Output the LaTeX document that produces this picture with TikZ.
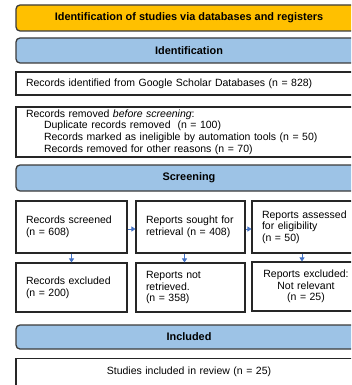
\documentclass[tikz,border=0pt]{standalone}
\usepackage{fontspec}
\setmainfont{Liberation Sans}
\usetikzlibrary{arrows.meta}

\definecolor{stagegold}{HTML}{FFC000}
\definecolor{stageblue}{HTML}{9DC3E6}
\definecolor{stageedge}{HTML}{3B3B3B}
\definecolor{flowblue}{HTML}{4472C4}

\tikzset{
	stage/.style={draw=stageedge, fill=stageblue, rounded corners=4pt, line width=1.3pt,
		minimum width=346pt, font=\fontsize{10.9}{12}\selectfont\bfseries},
	record/.style={draw=black!85, line width=1.1pt, inner xsep=10pt, inner ysep=0pt,
		align=left, font=\fontsize{10.5}{11.7}\selectfont},
	flow/.style={draw=flowblue, line width=0.8pt, -{Triangle[length=4pt,width=5pt]}},
}

\begin{document}
\begin{tikzpicture}[x=1pt, y=-1pt]
		\useasboundingbox (0,0) rectangle (351,385);
		\clip (0,0) rectangle (351,385);
		
		% Stage headers
		\node[stage, fill=stagegold, minimum height=26pt] (title) at (189,18) {Identification of studies via databases and registers};
		\node[stage, minimum height=25pt] (ident) at (189,50.5) {Identification};
		\node[stage, minimum height=26pt] (screen) at (189,178) {Screening};
		\node[stage, minimum height=24pt] (incl) at (189,337) {Included};
		
		% Identification boxes
		\node[record, text width=326pt, minimum height=23pt] (found) at (189,83.5)
			{Records identified from Google Scholar Databases (n = 828)};
		\node[record, text width=326pt, minimum height=50pt] (removed) at (189,132)
			{Records removed \textit{before screening}:\\
			\hspace*{18pt}Duplicate records removed\ \ (n = 100)\\
			\hspace*{18pt}Records marked as ineligible by automation tools (n = 50)\\
			\hspace*{18pt}Records removed for other reasons (n = 70)};
		
		% Screening, top row
		\node[record, text width=91pt, minimum height=52pt] (scr1) at (71.5,227) {Records screened\\(n = 608)};
		\node[record, text width=89pt, minimum height=52pt] (scr2) at (190.5,227) {Reports sought for\\retrieval (n = 408)};
		\node[record, text width=88pt, minimum height=52pt] (scr3) at (306,227) {Reports assessed\\for eligibility\\(n = 50)};
		
		% Screening, excluded row
		\node[record, text width=91pt, minimum height=49pt] (exc1) at (71.5,287.5) {Records excluded\\(n = 200)};
		\node[record, text width=89pt, minimum height=49pt] (exc2) at (190.5,287.5) {Reports not\\retrieved.\\(n = 358)};
		\node[record, text width=88pt, minimum height=49pt, align=center] (exc3) at (306,286.5) {Reports excluded:\\Not relevant\\(n = 25)};
		
		% Included study count
		\node[record, text width=326pt, align=center, anchor=north, inner ysep=8pt,
			text height=8pt, text depth=30pt] (studies) at (189,358)
			{Studies included in review (n = 25)};
		
		% connections
		\draw[flow] ([yshift=-2pt]scr1.east) -- ([yshift=-2pt]scr2.west);
		\draw[flow] ([yshift=-2pt]scr2.east) -- ([yshift=-2pt]scr3.west);
		
		\draw[flow] (scr1.south) -- (exc1.north);
		\draw[flow] ([xshift=-6pt]scr2.south) -- ([xshift=-6pt]exc2.north);
		\draw[flow] ([xshift=-4pt]scr3.south) -- ([xshift=-4pt]exc3.north);
	\end{tikzpicture}
\end{document}
